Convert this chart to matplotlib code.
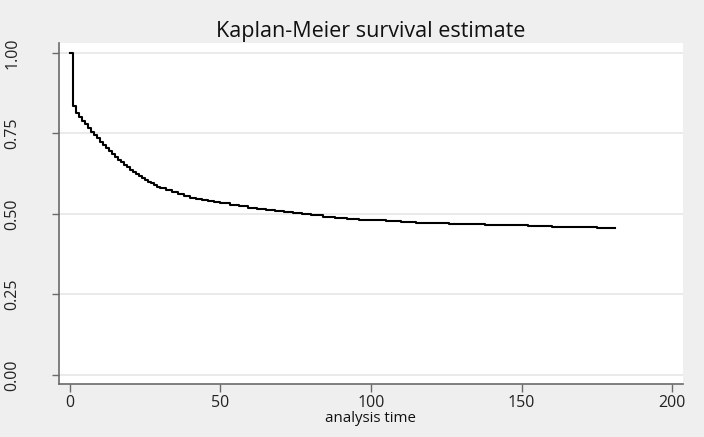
import matplotlib
matplotlib.use("Agg")
import matplotlib.pyplot as plt

# Kaplan-Meier step data (event times and survival after each step)
times = [0, 1, 2, 3, 4, 5, 6, 7, 8, 9, 10, 11, 12, 13, 14, 15, 16, 17, 18, 19,
         20, 21, 22, 23, 24, 25, 26, 27, 28, 29, 30, 32, 34, 36, 38, 40, 42, 44,
         46, 48, 50, 53, 56, 59, 62, 65, 68, 71, 74, 77, 80, 84, 88, 92, 96, 100,
         105, 110, 115, 120, 126, 132, 138, 145, 152, 160, 168, 175, 181]
survival = [1.000, 0.835, 0.815, 0.802, 0.790, 0.778, 0.766, 0.755, 0.745, 0.735,
            0.725, 0.715, 0.705, 0.695, 0.686, 0.677, 0.668, 0.660, 0.652, 0.645,
            0.638, 0.631, 0.624, 0.618, 0.612, 0.606, 0.600, 0.595, 0.590, 0.585,
            0.581, 0.574, 0.567, 0.561, 0.556, 0.551, 0.547, 0.543, 0.539, 0.536,
            0.533, 0.528, 0.524, 0.520, 0.516, 0.512, 0.508, 0.505, 0.502, 0.499,
            0.496, 0.492, 0.488, 0.485, 0.482, 0.480, 0.477, 0.474, 0.473, 0.472,
            0.470, 0.468, 0.467, 0.465, 0.463, 0.461, 0.459, 0.458, 0.457]

x_ticks = [0, 50, 100, 150, 200]
y_ticks = [0.00, 0.25, 0.50, 0.75, 1.00]
y_ticklabels = ["0.00", "0.25", "0.50", "0.75", "1.00"]
title = "Kaplan-Meier survival estimate"
xlabel = "analysis time"

plt.rcParams['font.family'] = ['Open Sans', 'DejaVu Sans']

W, H = 704, 437
fig = plt.figure(figsize=(W / 100, H / 100), dpi=100)
fig.patch.set_facecolor('#efefef')

ax = fig.add_axes([59 / W, 1 - 384 / H, (683 - 59) / W, (384 - 43) / H])
ax.set_facecolor('white')

ax.step(times, survival, where='post', color='black', linewidth=1.5)

ax.set_xlim(-3.65, 203.65)
ax.set_ylim(-0.028, 1.031)
ax.set_xticks(x_ticks)
ax.set_yticks(y_ticks)
ax.set_yticklabels(y_ticklabels, rotation=90, va='center')

for s in ['top', 'right']:
    ax.spines[s].set_visible(False)
for s in ['left', 'bottom']:
    ax.spines[s].set_color('#6a6a6a')
    ax.spines[s].set_linewidth(1.2)

ax.yaxis.grid(True, color='#e6e6e6', linewidth=1.2)
ax.set_axisbelow(True)

ax.tick_params(axis='x', direction='out', length=6, width=1, color='#6a6a6a',
               labelsize=11.5, pad=2, labelcolor='#222222')
ax.tick_params(axis='y', direction='out', length=5, width=1, color='#6a6a6a',
               labelsize=11.5, pad=23, labelcolor='#222222')

fig.text(370.5 / W, 1 - 31 / H, title, ha='center', va='center', fontsize=15.5,
         color='#111111')
fig.text(370.5 / W, 1 - 418 / H, xlabel, ha='center', va='center', fontsize=10.8,
         color='#111111')

fig.savefig('out.png', dpi=100, facecolor=fig.get_facecolor())
